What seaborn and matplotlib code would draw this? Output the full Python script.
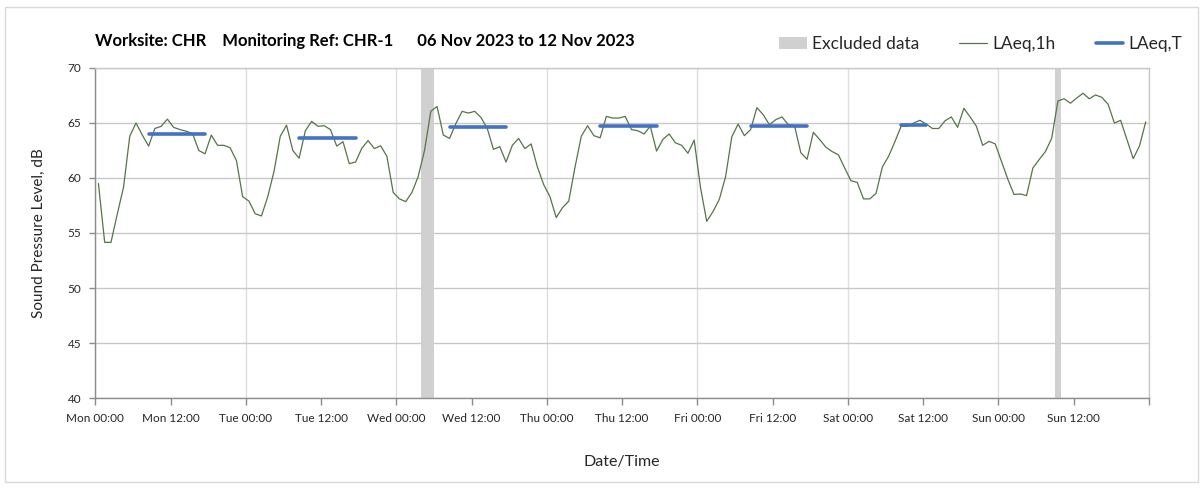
import numpy as np
import pandas as pd
import matplotlib
matplotlib.use("Agg")
import matplotlib.pyplot as plt
from matplotlib.patches import Patch, Rectangle
from matplotlib.lines import Line2D
import seaborn as sns

days = ["Mon", "Tue", "Wed", "Thu", "Fri", "Sat", "Sun"]

# hourly LAeq,1h (dB), one list per day, 00:00 .. 23:00
laeq_mon = [59.5, 54.15, 54.15, 56.7, 59.15, 63.8, 65.0, 63.9, 62.9, 64.5, 64.7, 65.35,
            64.6, 64.4, 64.25, 64.05, 62.5, 62.2, 63.9, 62.97, 62.97, 62.75, 61.6, 58.3]
laeq_tue = [57.9, 56.75, 56.55, 58.3, 60.6, 63.8, 64.8, 62.5, 61.8, 64.3, 65.15, 64.7,
            64.75, 64.4, 62.9, 63.3, 61.3, 61.45, 62.7, 63.4, 62.67, 62.93, 61.97, 58.7]
laeq_wed = [58.1, 57.85, 58.7, 60.15, 62.5, 66.06, 66.5, 63.9, 63.6, 64.95, 66.06, 65.9,
            66.06, 65.5, 64.5, 62.6, 62.85, 61.45, 62.97, 63.6, 62.67, 63.1, 61.0, 59.4]
laeq_thu = [58.3, 56.4, 57.3, 57.9, 61.0, 63.8, 64.75, 63.85, 63.65, 65.6, 65.45, 65.45,
            65.6, 64.4, 64.3, 64.0, 64.7, 62.45, 63.5, 64.0, 63.2, 62.97, 62.25, 63.45]
laeq_fri = [59.15, 56.06, 56.95, 58.05, 60.1, 63.75, 64.9, 63.85, 64.4, 66.4, 65.75, 64.85,
            65.3, 65.55, 64.85, 64.75, 62.3, 61.7, 64.15, 63.5, 62.8, 62.4, 62.1, 60.9]
laeq_sat = [59.75, 59.6, 58.1, 58.1, 58.6, 61.0, 61.97, 63.3, 64.7, 64.7, 65.0, 65.24,
            64.9, 64.5, 64.5, 65.2, 65.55, 64.6, 66.33, 65.55, 64.7, 62.97, 63.33, 63.1]
laeq_sun = [61.5, 59.9, 58.5, 58.55, 58.4, 60.9, 61.67, 62.4, 63.6, 67.0, 67.2, 66.8,
            67.27, 67.7, 67.2, 67.55, 67.33, 66.7, 65.0, 65.24, 63.5, 61.76, 62.9, 65.1]

# daytime LAeq,T periods: first / last hour counted from Mon 00:00, and level (dB)
lt_first_hour = [8, 32, 56, 80, 104, 128]
lt_last_hour = [17, 41, 65, 89, 113, 132]
lt_level = [64.0, 63.6, 64.6, 64.7, 64.7, 64.8]

# excluded data periods (hours from Mon 00:00)
excl_start = [52, 153]
excl_end = [54, 154]

laeq_1h = laeq_mon + laeq_tue + laeq_wed + laeq_thu + laeq_fri + laeq_sat + laeq_sun

sns.set_theme(style="white")
plt.rcParams['font.family'] = ['Lato', 'DejaVu Sans']

GREEN = "#56744a"
BLUE = "#4472c4"
GREY = "#d0d0d0"

fig = plt.figure(figsize=(12.03, 4.88), dpi=100)
ax = fig.add_axes([0.0792, 0.1844, 0.8758, 0.6763])

for s, e in zip(excl_start, excl_end):
    ax.axvspan(s, e, color=GREY, lw=0, zorder=1)

df = pd.DataFrame({"hour": np.arange(len(laeq_1h)) + 0.5, "level": laeq_1h})
sns.lineplot(data=df, x="hour", y="level", color=GREEN, lw=0.9, ax=ax,
             legend=False, zorder=3)

rows = []
for i, (a, b, v) in enumerate(zip(lt_first_hour, lt_last_hour, lt_level)):
    rows.append({"period": i, "hour": a + 0.5, "level": v})
    rows.append({"period": i, "hour": b + 0.5, "level": v})
seg = pd.DataFrame(rows)
sns.lineplot(data=seg, x="hour", y="level", units="period", estimator=None,
             color=BLUE, lw=2.6, ax=ax, legend=False, zorder=4)

ax.set_xlim(0, 168)
ax.set_ylim(40, 70)
ax.set_yticks(np.arange(40, 71, 5))

ax.set_xticks(np.arange(0, 169, 24))
ax.set_xticklabels([f"{d} 00:00" for d in days] + [""])
ax.set_xticks(np.arange(12, 168, 24), minor=True)
ax.set_xticklabels([f"{d} 12:00" for d in days], minor=True)

ax.grid(axis="y", color="#c8c8c8", lw=1)
ax.grid(axis="x", which="major", color="#dedede", lw=1)
ax.set_axisbelow(True)

for side in ["left", "bottom"]:
    ax.spines[side].set_color("#8c8c8c")
    ax.spines[side].set_linewidth(1)
for side in ["top", "right"]:
    ax.spines[side].set_color("#c8c8c8")
    ax.spines[side].set_linewidth(1)

ax.tick_params(axis="both", which="both", direction="out", color="#8c8c8c",
               labelcolor="#262626", labelsize=8.5)
ax.tick_params(axis="x", which="both", length=5, width=1, pad=6)
ax.tick_params(axis="y", length=4, width=1, pad=6, left=True)
ax.tick_params(axis="x", bottom=True, which="both")

ax.set_xlabel("Date/Time", fontsize=11.5, color="#262626", labelpad=22)
ax.set_ylabel("Sound Pressure Level, dB", fontsize=11, color="#262626", labelpad=16)

fig.text(0.079, 0.916, "Worksite: CHR    Monitoring Ref: CHR-1      06 Nov 2023 to 12 Nov 2023",
         fontsize=12, fontweight="bold", color="black", va="center", ha="left")

handles = [Patch(facecolor=GREY, edgecolor="none"),
           Line2D([], [], color=GREEN, lw=0.9),
           Line2D([], [], color=BLUE, lw=2.6)]
fig.legend(handles, ["Excluded data", "LAeq,1h", "LAeq,T"], ncol=3,
           loc="center right", bbox_to_anchor=(0.99, 0.91), frameon=False,
           fontsize=12.5, handlelength=1.6, handletextpad=0.3, columnspacing=2.3,
           borderpad=0, labelcolor="#262626")

fig.patches.append(Rectangle((0.004, 0.012), 0.992, 0.974, transform=fig.transFigure,
                             fill=False, edgecolor="#d9d9d9", lw=1))

fig.savefig("out.png", dpi=100)
